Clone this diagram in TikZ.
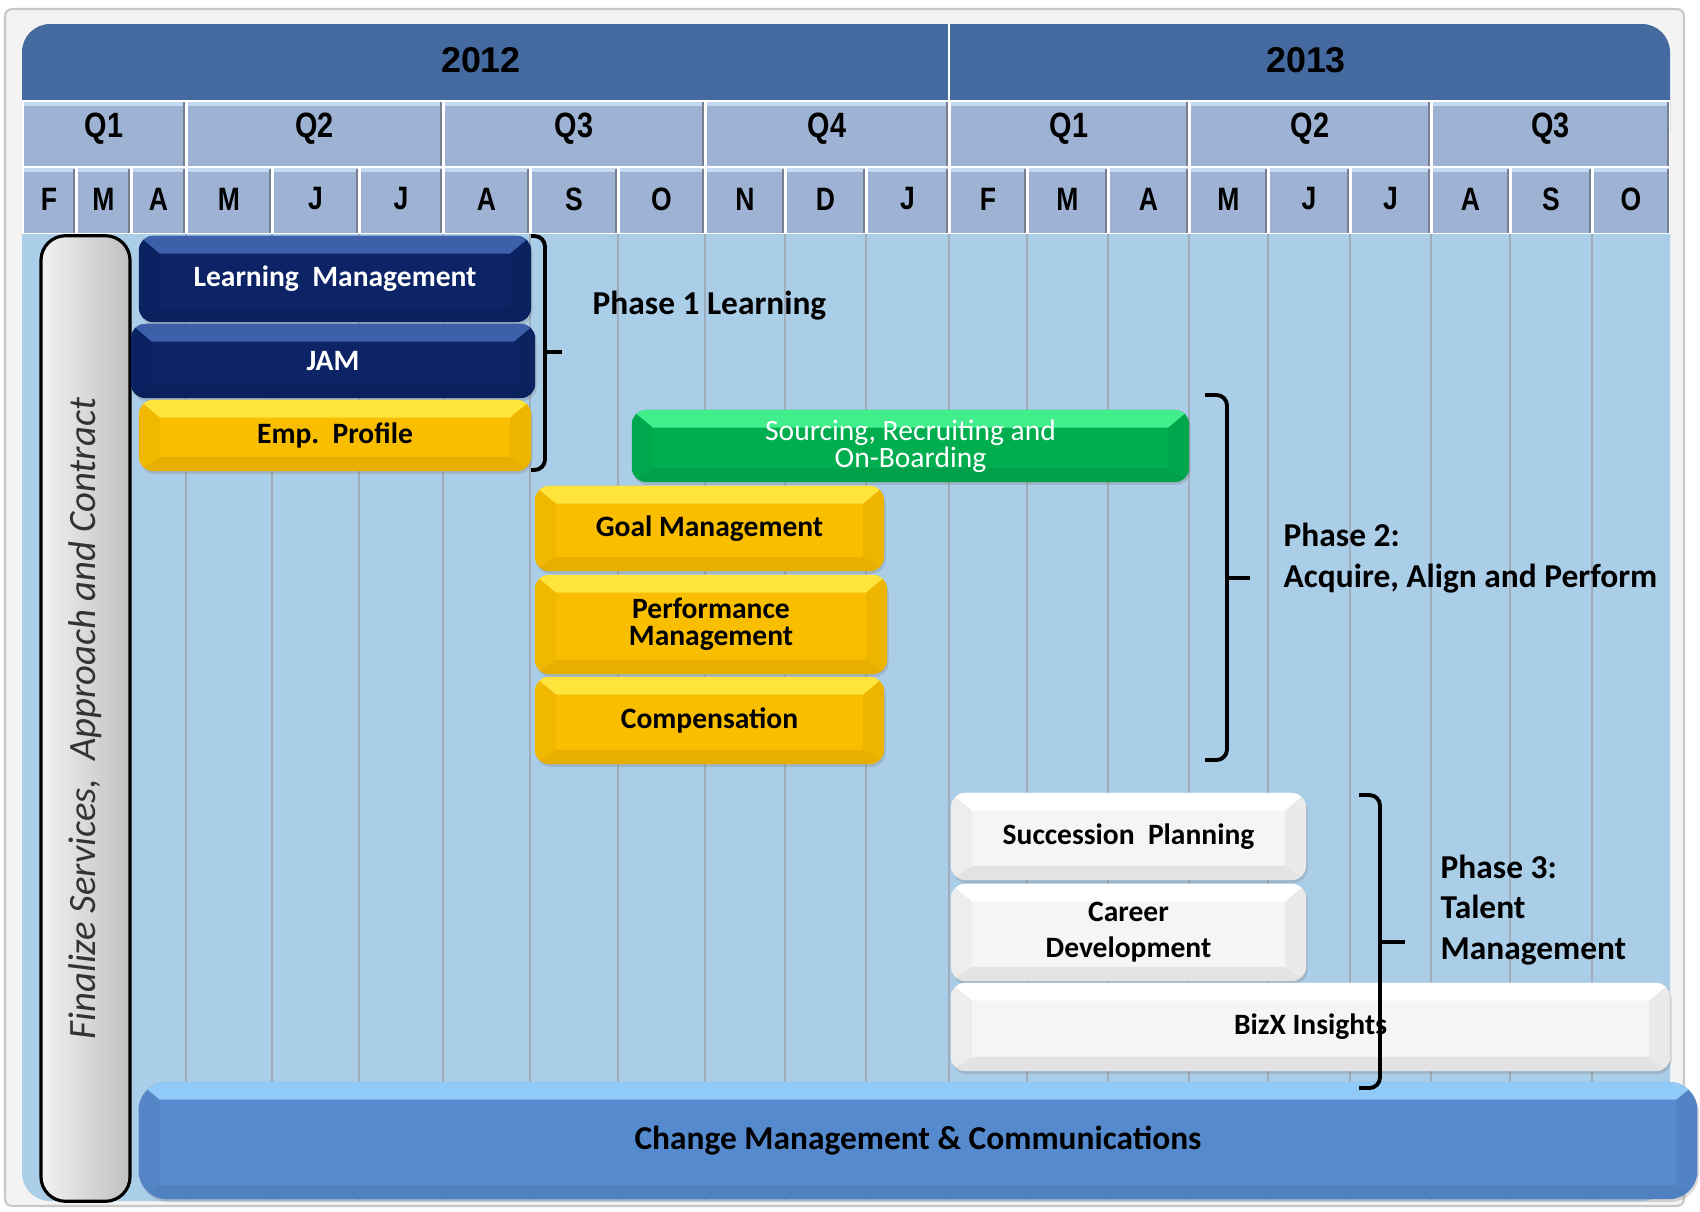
\documentclass[tikz,border=0pt]{standalone}
\usepackage{fontspec}
\setmainfont{Carlito}
\newfontfamily\yearfont{Liberation Sans}
\newfontfamily\cellfont[FakeStretch=0.82]{Liberation Sans}
\usetikzlibrary{shadows}

\definecolor{frameGrey}{RGB}{200,200,200}
\definecolor{frameFill}{RGB}{243,243,243}
\definecolor{yearBlue}{RGB}{68,106,160}
\definecolor{cellBlue}{RGB}{158,179,211}
\definecolor{cellTop}{RGB}{196,216,240}
\definecolor{cellShade}{RGB}{118,128,145}
\definecolor{bodyBlue}{RGB}{170,205,232}
\definecolor{gridGrey}{RGB}{158,172,188}
\definecolor{navyMain}{RGB}{12,36,102}
\definecolor{navyTop}{RGB}{62,96,170}
\definecolor{goldMain}{RGB}{249,190,0}
\definecolor{goldTop}{RGB}{255,228,60}
\definecolor{greenMain}{RGB}{0,174,80}
\definecolor{greenTop}{RGB}{66,238,140}
\definecolor{paperMain}{RGB}{245,245,245}
\definecolor{skyMain}{RGB}{86,138,206}
\definecolor{skyTop}{RGB}{143,202,248}
\definecolor{finLight}{RGB}{242,242,242}
\definecolor{finDark}{RGB}{192,192,192}

\begin{document}
\begin{tikzpicture}[x=0.01cm, y=-0.01cm]
	\tikzset{bevel/.style={path picture={
		\path (path picture bounding box.north west) coordinate (bNW)
			(path picture bounding box.north east) coordinate (bNE)
			(path picture bounding box.south west) coordinate (bSW)
			(path picture bounding box.south east) coordinate (bSE);
		\fill[sharp corners, #1] (bNW) -- (bNE) -- ([shift={(-6pt,-5pt)}]bNE) -- ([shift={(6pt,-5pt)}]bNW) -- cycle;
		\fill[sharp corners, black, opacity=.07] (bSW) -- (bSE) -- ([shift={(-6pt,4pt)}]bSE) -- ([shift={(6pt,4pt)}]bSW) -- cycle;
		\fill[sharp corners, black, opacity=.045] (bNE) -- (bSE) -- ([shift={(-6pt,4pt)}]bSE) -- ([shift={(-6pt,-5pt)}]bNE) -- cycle;
		\fill[sharp corners, black, opacity=.03] (bNW) -- (bSW) -- ([shift={(6pt,4pt)}]bSW) -- ([shift={(6pt,-5pt)}]bNW) -- cycle;
	}}}
	\tikzstyle{yearStyle} = [inner sep=0pt, font=\yearfont\bfseries\fontsize{10.2}{12}\selectfont]
	\tikzstyle{quarterStyle} = [inner sep=0pt, font=\cellfont\bfseries\fontsize{10}{12}\selectfont]
	\tikzstyle{monthStyle} = [inner sep=0pt, font=\cellfont\bfseries\fontsize{9.2}{11}\selectfont]
	\tikzstyle{barStyle} = [rounded corners=4pt, inner sep=0pt, align=center, font=\fontsize{8.4}{7.8}\selectfont\bfseries, drop shadow={opacity=.3, shadow xshift=.4pt, shadow yshift=-.8pt}]
	\tikzstyle{navyBar} = [barStyle, fill=navyMain, text=white, bevel=navyTop]
	\tikzstyle{goldBar} = [barStyle, fill=goldMain, bevel=goldTop]
	\tikzstyle{greenBar} = [barStyle, fill=greenMain, text=white, bevel=greenTop, font=\fontsize{8.4}{7.8}\selectfont]
	\tikzstyle{paperBar} = [barStyle, fill=paperMain, bevel=white]
	\tikzstyle{skyBar} = [barStyle, fill=skyMain, bevel=skyTop, rounded corners=8pt, font=\fontsize{9.5}{11}\selectfont\bfseries]
	\tikzstyle{finalStyle} = [draw=black, line width=.9pt, rounded corners=7pt, left color=finLight, right color=finDark, inner sep=0pt, text=black!80, font=\fontsize{11}{13}\selectfont\itshape]
	\tikzstyle{phaseStyle} = [anchor=west, align=left, inner sep=0pt, font=\fontsize{9.5}{11.6}\selectfont\bfseries]
	\tikzstyle{braceStyle} = [line width=1.1pt, rounded corners=3pt, black]
	\useasboundingbox (0,0) rectangle (1700,1211);
	\filldraw[fill=frameFill, draw=frameGrey, line width=.6pt, rounded corners=2pt] (5,9) rectangle (1684,1206);
	\fill[bodyBlue, rounded corners=8pt] (22,150) rectangle (1670,1201);
	\foreach \x in {186,272,359,443,530,618,705,785,866,949,1027,1108,1189,1268,1350,1431,1510,1592}
		\draw[gridGrey, line width=.45pt] (\x,233) -- (\x,1200);
	\fill[yearBlue, rounded corners=8pt] (22,24) rectangle (1670,160);
	\draw[white, line width=.8pt] (949,24) -- (949,100);
	\node[yearStyle] (y2012) at (481,60) {2012};
	\node[yearStyle] (y2013) at (1306,60) {2013};
	\fill[white] (22,100) rectangle (1670,234);
	\foreach \a/\b/\t [count=\i] in {22/186/Q1, 186/443/Q2, 443/705/Q3, 705/949/Q4, 949/1189/Q1, 1189/1431/Q2, 1431/1670/Q3} {
		\fill[cellBlue] (\a+1.5,101.5) rectangle (\b-1.5,166);
		\fill[cellTop] (\a+1.5,101.5) rectangle (\b-1.5,105.5);
		\draw[cellShade, line width=.5pt] (\b-2,102) -- (\b-2,166);
		\node[quarterStyle] (q\i) at ({(\a+\b)/2},129) {\t};
	}
	\foreach \a/\b/\t [count=\i] in {22/76/F, 76/131/M, 131/186/A, 186/272/M, 272/359/J, 359/443/J, 443/530/A, 530/618/S, 618/705/O, 705/785/N, 785/866/D, 866/949/J, 949/1027/F, 1027/1108/M, 1108/1189/A, 1189/1268/M, 1268/1350/J, 1350/1431/J, 1431/1510/A, 1510/1592/S, 1592/1670/O} {
		\fill[cellBlue] (\a+1.5,168) rectangle (\b-1.5,233);
		\fill[cellTop] (\a+1.5,168) rectangle (\b-1.5,172);
		\draw[cellShade, line width=.5pt] (\b-2,169) -- (\b-2,233);
		\node[monthStyle] (m\i) at ({(\a+\b)/2},199) {\t};
	}
	\node[finalStyle, minimum width=0.89cm, minimum height=9.65cm] (fin) at (85.5,718.5) {\rotatebox{90}{Finalize Services,\ \ Approach and Contract}};
	\node[navyBar, minimum width=3.92cm, minimum height=0.86cm] (learn) at (335,279) {Learning\ \ Management};
	\node[navyBar, minimum width=4.04cm, minimum height=0.74cm] (jam) at (333,361) {JAM};
	\node[goldBar, minimum width=3.92cm, minimum height=0.71cm] (emp) at (335,435.5) {Emp.\ \ Profile};
	\node[greenBar, minimum width=5.57cm, minimum height=0.72cm] (src) at (910.5,446) {Sourcing, Recruiting and\\On-Boarding};
	\node[goldBar, minimum width=3.49cm, minimum height=0.85cm] (goal) at (709.5,528.5) {Goal Management};
	\node[goldBar, minimum width=3.52cm, minimum height=0.99cm] (perf) at (711,624.5) {Performance\\Management};
	\node[goldBar, minimum width=3.49cm, minimum height=0.87cm] (comp) at (709.5,720.5) {Compensation};
	\node[paperBar, minimum width=3.55cm, minimum height=0.87cm] (succ) at (1128.5,836.5) {Succession\ \ Planning};
	\node[paperBar, minimum width=3.55cm, minimum height=0.97cm] (career) at (1128.5,932.5) {Career\\[2.5pt]Development};
	\node[paperBar, minimum width=7.19cm, minimum height=0.88cm] (bizx) at (1310.5,1027) {BizX Insights};
	\node[skyBar, minimum width=15.58cm, minimum height=1.17cm] (chg) at (918,1140.5) {Change Management \& Communications};
	\draw[braceStyle] (531,236) -- (545,236) -- (545,470) -- (531,470);
	\draw[braceStyle] (545,352) -- (562,352);
	\draw[braceStyle] (1205,395) -- (1227,395) -- (1227,760) -- (1205,760);
	\draw[braceStyle] (1227,578) -- (1250,578);
	\draw[braceStyle] (1359,795) -- (1380,795) -- (1380,1088) -- (1359,1088);
	\draw[braceStyle] (1380,942) -- (1405,942);
	\node[phaseStyle] (ph1) at (592,306) {Phase 1 Learning};
	\node[phaseStyle] (ph2) at (1283,558) {Phase 2:\\Acquire, Align and Perform};
	\node[phaseStyle] (ph3) at (1440,910) {Phase 3:\\Talent\\Management};
\end{tikzpicture}
\end{document}
